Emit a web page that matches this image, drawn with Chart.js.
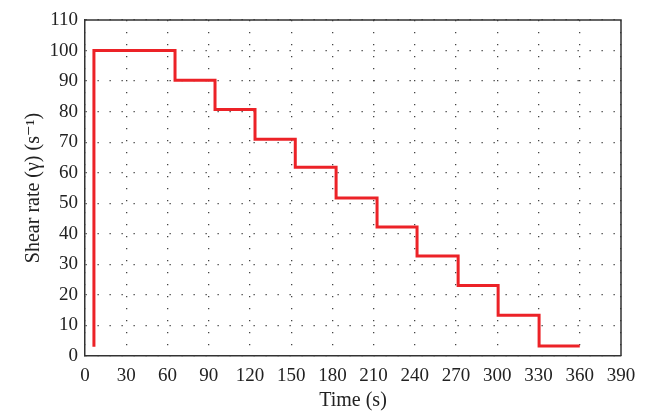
<!DOCTYPE html>
<html>
<head>
<meta charset="utf-8">
<script src="https://cdn.jsdelivr.net/npm/chart.js@4/dist/chart.umd.min.js"></script>
<style>
  html, body { margin: 0; padding: 0; background: #fff; }
  #wrap { width: 648px; height: 413px; position: relative; }
</style>
</head>
<body>
<div id="wrap"><canvas id="shearChart"></canvas></div>
<script>
// step profile: each rate holds from its start time until the next start time
const stepTimes = [6.5, 6.5, 65.5, 94.6, 123.7, 153, 182.7, 212.5, 241.6, 271.5, 300.6, 330.4, 360];
const stepRates = [3, 100, 90.3, 80.7, 71, 61.8, 51.7, 42.2, 32.7, 23.1, 13.3, 3.3, 3.3];
const xTicks = [0, 30, 60, 90, 120, 150, 180, 210, 240, 270, 300, 330, 360, 390];
const yTicks = [0, 10, 20, 30, 40, 50, 60, 70, 80, 90, 100, 110];

const points = stepTimes.map((t, i) => ({ x: t, y: stepRates[i] }));
const serif = "'Liberation Serif', 'DejaVu Serif', serif";

// top and right edges of the frame
const framePlugin = {
    id: 'frame',
    afterDraw(chart) {
        const a = chart.chartArea;
        const ctx = chart.ctx;
        ctx.save();
        ctx.strokeStyle = '#333';
        ctx.lineWidth = 1.5;
        ctx.beginPath();
        ctx.moveTo(a.left, a.top);
        ctx.lineTo(a.right, a.top);
        ctx.lineTo(a.right, a.bottom);
        ctx.stroke();
        ctx.restore();
    }
};

new Chart(document.getElementById('shearChart'), {
    type: 'line',
    data: {
        datasets: [{
            data: points,
            borderColor: '#ec2227',
            borderWidth: 3,
            pointRadius: 0,
            stepped: 'before',
            fill: false
        }]
    },
    options: {
        responsive: true,
        maintainAspectRatio: false,
        animation: false,
        layout: { padding: { top: 20, right: 27, left: 0, bottom: 0 } },
        plugins: { legend: { display: false }, tooltip: { enabled: false } },
        scales: {
            x: {
                type: 'linear',
                min: 0,
                max: 390,
                afterBuildTicks: s => { s.ticks = xTicks.map(v => ({ value: v })); },
                afterFit: s => { s.height = 57; },
                grid: { color: '#444', lineWidth: 1.3, drawTicks: false },
                border: { color: '#333', width: 1.5, dash: [1.3, 10.7] },
                ticks: { color: '#222', padding: 9, font: { family: serif, size: 19 } },
                title: {
                    display: true,
                    text: 'Time (s)',
                    color: '#222',
                    padding: { top: 2, bottom: 0 },
                    font: { family: serif, size: 20 }
                }
            },
            y: {
                min: 0,
                max: 110,
                afterBuildTicks: s => { s.ticks = yTicks.map(v => ({ value: v })); },
                afterFit: s => { s.width = 85; },
                grid: { color: '#444', lineWidth: 1.3, drawTicks: false },
                border: { color: '#333', width: 1.5, dash: [1.3, 10.7] },
                ticks: { color: '#222', padding: 7, font: { family: serif, size: 19 } },
                title: {
                    display: true,
                    text: 'Shear rate (γ) (s⁻¹)',
                    color: '#222',
                    padding: { top: 22, bottom: 4 },
                    font: { family: serif, size: 20 }
                }
            }
        }
    },
    plugins: [framePlugin]
});
</script>
</body>
</html>
